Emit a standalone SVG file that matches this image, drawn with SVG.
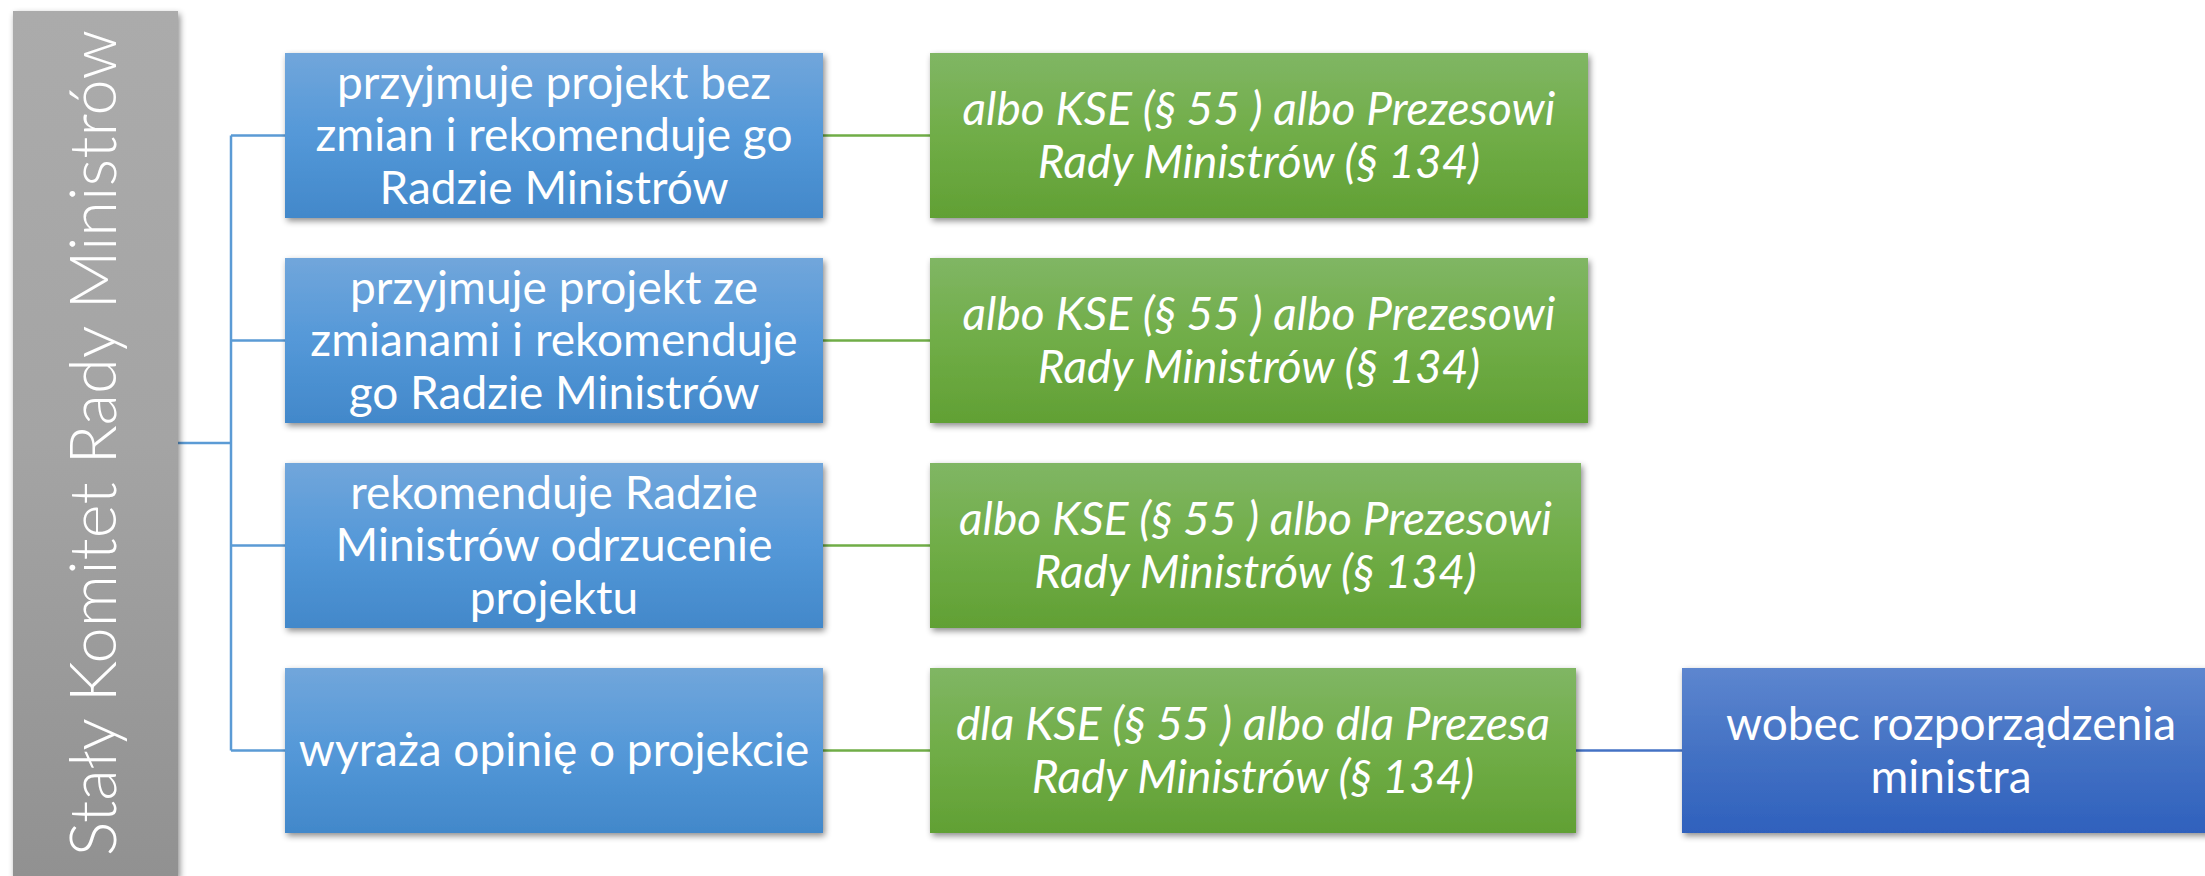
<svg xmlns="http://www.w3.org/2000/svg" width="2205" height="876" viewBox="0 0 2205 876">
<defs>
  <linearGradient id="gBlue" x1="0" y1="0" x2="0" y2="1">
    <stop offset="0" stop-color="#71a6db"/>
    <stop offset="0.5" stop-color="#5498d8"/>
    <stop offset="1" stop-color="#4288ca"/>
  </linearGradient>
  <linearGradient id="gGreen" x1="0" y1="0" x2="0" y2="1">
    <stop offset="0" stop-color="#80b664"/>
    <stop offset="0.5" stop-color="#70ad47"/>
    <stop offset="1" stop-color="#61a034"/>
  </linearGradient>
  <linearGradient id="gDark" x1="0" y1="0" x2="0" y2="1">
    <stop offset="0" stop-color="#5d86cf"/>
    <stop offset="0.5" stop-color="#4472c4"/>
    <stop offset="1" stop-color="#2f61bd"/>
  </linearGradient>
  <linearGradient id="gGray" x1="0" y1="0" x2="0" y2="1">
    <stop offset="0" stop-color="#ababab"/>
    <stop offset="0.5" stop-color="#a4a4a4"/>
    <stop offset="1" stop-color="#919191"/>
  </linearGradient>
  <filter id="shadow" x="-10%" y="-10%" width="120%" height="130%">
    <feDropShadow dx="2" dy="3" stdDeviation="3" flood-color="#000" flood-opacity="0.45"/>
  </filter>
</defs>
<style>
  .t { font-family: Lato, "Liberation Sans", sans-serif; fill: #ffffff; font-size: 46px; text-anchor: middle; }
  .i { font-style: italic; }
  .v { font-family: Lato, "Liberation Sans", sans-serif; fill: #ffffff; font-size: 65px; font-weight: 300; text-anchor: middle; }
  .cb { stroke: #5b9bd5; stroke-width: 2.5; fill: none; }
  .cg { stroke: #70ad47; stroke-width: 2.5; fill: none; }
  .cd { stroke: #4472c4; stroke-width: 2.5; fill: none; }
</style>
<rect width="2205" height="876" fill="#ffffff"/>

<g id="connectors">
  <path class="cb" d="M178 443 H231 M231 135.5 V750.5 M231 135.5 H285 M231 340.5 H285 M231 545.5 H285 M231 750.5 H285"/>
  <path class="cg" d="M823 135.5 H930 M823 340.5 H930 M823 545.5 H930 M823 750.5 H930"/>
  <path class="cd" d="M1576 750.5 H1682"/>
</g>

<g id="root">
  <rect x="13" y="11" width="165" height="866" fill="url(#gGray)" filter="url(#shadow)"/>
  <text class="v" transform="translate(116,443) rotate(-90)">Stały Komitet Rady Ministrów</text>
</g>

<g id="b1">
  <rect x="285" y="53" width="538" height="165" fill="url(#gBlue)" filter="url(#shadow)"/>
  <text class="t" x="554" y="99">przyjmuje projekt bez</text>
  <text class="t" x="554" y="151">zmian i rekomenduje go</text>
  <text class="t" x="554" y="204">Radzie Ministrów</text>
</g>
<g id="b2">
  <rect x="285" y="258" width="538" height="165" fill="url(#gBlue)" filter="url(#shadow)"/>
  <text class="t" x="554" y="304">przyjmuje projekt ze</text>
  <text class="t" x="554" y="356">zmianami i rekomenduje</text>
  <text class="t" x="554" y="409">go Radzie Ministrów</text>
</g>
<g id="b3">
  <rect x="285" y="463" width="538" height="165" fill="url(#gBlue)" filter="url(#shadow)"/>
  <text class="t" x="554" y="509">rekomenduje Radzie</text>
  <text class="t" x="554" y="561">Ministrów odrzucenie</text>
  <text class="t" x="554" y="614">projektu</text>
</g>
<g id="b4">
  <rect x="285" y="668" width="538" height="165" fill="url(#gBlue)" filter="url(#shadow)"/>
  <text class="t" x="554" y="766">wyraża opinię o projekcie</text>
</g>

<g id="g1">
  <rect x="930" y="53" width="658" height="165" fill="url(#gGreen)" filter="url(#shadow)"/>
  <text class="t i" x="1259" y="125">albo KSE (§ 55 ) albo Prezesowi</text>
  <text class="t i" x="1259" y="178">Rady Ministrów (§ 134)</text>
</g>
<g id="g2">
  <rect x="930" y="258" width="658" height="165" fill="url(#gGreen)" filter="url(#shadow)"/>
  <text class="t i" x="1259" y="330">albo KSE (§ 55 ) albo Prezesowi</text>
  <text class="t i" x="1259" y="383">Rady Ministrów (§ 134)</text>
</g>
<g id="g3">
  <rect x="930" y="463" width="651" height="165" fill="url(#gGreen)" filter="url(#shadow)"/>
  <text class="t i" x="1255.5" y="535">albo KSE (§ 55 ) albo Prezesowi</text>
  <text class="t i" x="1255.5" y="588">Rady Ministrów (§ 134)</text>
</g>
<g id="g4">
  <rect x="930" y="668" width="646" height="165" fill="url(#gGreen)" filter="url(#shadow)"/>
  <text class="t i" x="1253" y="740">dla KSE (§ 55 ) albo dla Prezesa</text>
  <text class="t i" x="1253" y="793">Rady Ministrów (§ 134)</text>
</g>

<g id="d1">
  <rect x="1682" y="668" width="540" height="165" fill="url(#gDark)" filter="url(#shadow)"/>
  <text class="t" x="1951" y="740">wobec rozporządzenia</text>
  <text class="t" x="1951" y="793">ministra</text>
</g>
</svg>
